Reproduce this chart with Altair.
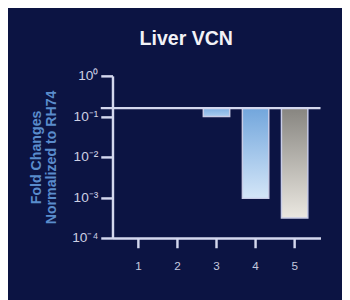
import altair as alt
import pandas as pd

categories = ["1", "2", "3", "4", "5"]
values = [None, None, 0.1, 0.00095, 0.00031]
baseline = 0.16
y_ticks = [1, 0.1, 0.01, 0.001, 0.0001]

bar_gradients = {
    "3": ("#7eaee0", "#a8cbee"),
    "4": ("#72a6dc", "#d4e6f8"),
    "5": ("#878580", "#ebe8e1"),
}

BG = "#0c1443"
AX = "#d4d8ee"

df = pd.DataFrame({"cat": categories, "value": values})
df["base"] = baseline

x_enc = alt.X(
    "cat:O",
    sort=categories,
    scale=alt.Scale(domain=categories, paddingInner=0.325, paddingOuter=0.325),
    axis=alt.Axis(
        title=None, labelAngle=0, domainColor=AX, domainWidth=2.5, tickColor=AX,
        tickWidth=2.5, tickSize=10, labelColor="#c4c8de", labelFontSize=12,
        labelFont="Liberation Sans", labelPadding=13, offset=0,
    ),
)
y_enc = alt.Y(
    "value:Q",
    scale=alt.Scale(type="log", domain=[0.0001, 1]),
    axis=alt.Axis(
        values=y_ticks,
        title=["Fold Changes", "Normalized to RH74"],
        titleColor="#5a8ccc", titleFont="Liberation Sans", titleFontSize=14.5,
        titleFontWeight="bold", titlePadding=14, titleLineHeight=15,
        labelExpr="datum.value > 0.5 ? '10⁰' : datum.value > 0.05 ? '10⁻¹' : datum.value > 0.005 ? '10⁻²' : datum.value > 0.0005 ? '10⁻³' : '10⁻⁴'",
        labelColor="#ccd0e4", labelFontSize=14, labelFont="Liberation Sans",
        labelPadding=3, domainColor=AX, domainWidth=2.5, tickColor=AX,
        tickWidth=2.5, tickSize=12, grid=False,
    ),
)

layers = []
for c, (top, bottom) in bar_gradients.items():
    layers.append(
        alt.Chart(df)
        .transform_filter(alt.datum.cat == c)
        .mark_bar(
            fill=alt.Gradient(
                gradient="linear",
                stops=[alt.GradientStop(color=top, offset=0), alt.GradientStop(color=bottom, offset=1)],
                x1=0, x2=0, y1=0, y2=1,
            ),
            stroke="#c8cce6", strokeWidth=1.5,
        )
        .encode(x=x_enc, y=y_enc, y2="base:Q")
    )

rule = (
    alt.Chart(pd.DataFrame({"value": [baseline]}))
    .mark_rule(color=AX, strokeWidth=2.5)
    .encode(y=alt.Y("value:Q"), x=alt.value(-12), x2=alt.value(213))
)

chart = (
    alt.layer(*layers, rule)
    .properties(
        width=213, height=166,
        background=BG,
        padding={"left": 107, "top": 66, "right": 22, "bottom": 60},
        autosize=alt.AutoSizeParams(type="none"),
        title=alt.TitleParams(
            "Liver VCN", color="#f2f2f6", font="Liberation Sans", fontSize=20,
            fontWeight="bold", anchor="middle", dx=-31, offset=21,
        ),
    )
    .configure_view(stroke=None)
)

chart.save("out.html", embed_options={"renderer": "svg", "actions": False})
